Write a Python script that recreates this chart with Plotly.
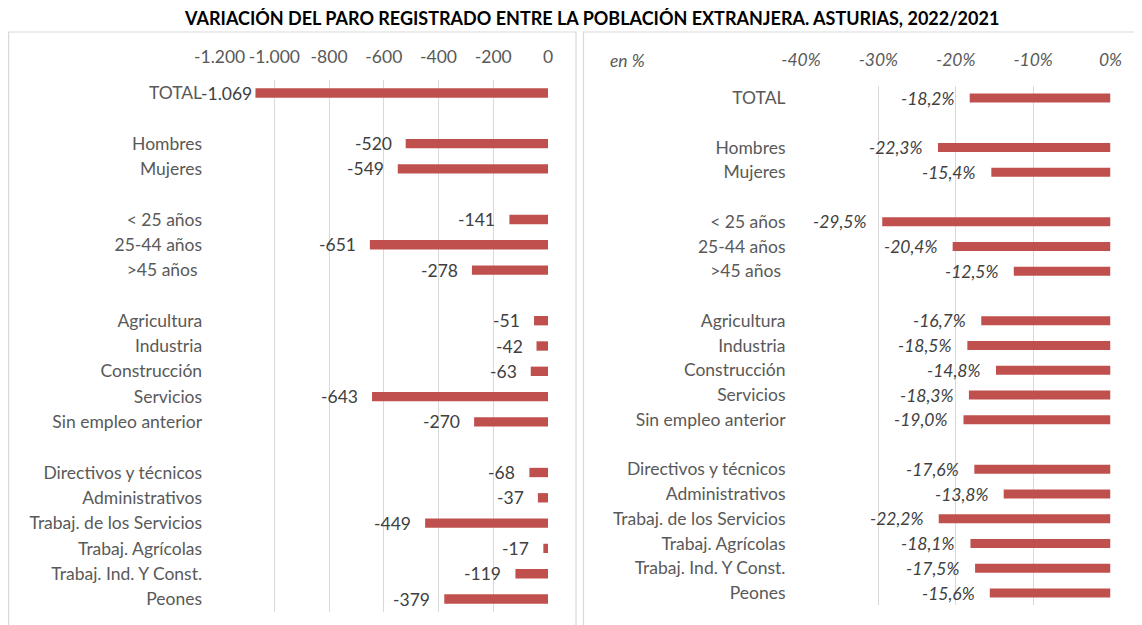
import plotly.graph_objects as go

# ---- data ----
categories = ["TOTAL",
              "Hombres", "Mujeres",
              "< 25 años", "25-44 años", ">45 años ",
              "Agricultura", "Industria", "Construcción", "Servicios", "Sin empleo anterior",
              "Directivos y técnicos", "Administrativos", "Trabaj. de los Servicios",
              "Trabaj. Agrícolas", "Trabaj. Ind. Y Const.", "Peones"]
group_sizes = [1, 2, 3, 5, 6]
abs_change = [-1069, -520, -549, -141, -651, -278, -51, -42, -63, -643, -270,
              -68, -37, -449, -17, -119, -379]
pct_change = [-18.2, -22.3, -15.4, -29.5, -20.4, -12.5, -16.7, -18.5, -14.8, -18.3, -19.0,
              -17.6, -13.8, -22.2, -18.1, -17.5, -15.6]
abs_ticks = [-1200, -1000, -800, -600, -400, -200, 0]
abs_ticklabels = ["-1.200", "-1.000", "-800", "-600", "-400", "-200", "0"]
pct_ticks = [-40, -30, -20, -10, 0]
pct_ticklabels = ["-40%", "-30%", "-20%", "-10%", "0%"]
title = "VARIACIÓN DEL PARO REGISTRADO ENTRE LA POBLACIÓN EXTRANJERA. ASTURIAS, 2022/2021"

# row positions with one blank row between groups
rows = []
r = 0
for g in group_sizes:
    for _ in range(g):
        rows.append(r)
        r += 1
    r += 1
last_row = rows[-1]

# page has an 8px body margin; figure sized to fit the window
OFF = 8
W, H = 1142 - OFF, 625 - OFF
RED = "#C0504D"
GRID = "#D9D9D9"
TXT = "#595959"
LBL = "#404040"
FONT = "Lato"
FS = 17.5

def fmt_abs(v):
    s = f"{abs(v):,}".replace(",", ".")
    return ("-" if v < 0 else "") + s

def fmt_pct(v):
    return f"{v:.1f}".replace(".", ",") + "%"

def px_x(p):
    return (p - OFF) / W

def px_y(p):
    return 1 - (p - OFF) / H

fig = go.Figure()
fig.add_trace(go.Bar(y=rows, x=abs_change, orientation="h", width=0.37,
                     marker=dict(color=RED, line=dict(width=0)),
                     xaxis="x", yaxis="y", showlegend=False, hoverinfo="x+text",
                     hovertext=categories))
fig.add_trace(go.Bar(y=rows, x=pct_change, orientation="h", width=0.37,
                     marker=dict(color=RED, line=dict(width=0)),
                     xaxis="x2", yaxis="y2", showlegend=False, hoverinfo="x+text",
                     hovertext=categories))

annotations = []
for i, (rw, v) in enumerate(zip(rows, abs_change)):
    shift = -12
    if v < -1000:
        shift = -1
    annotations.append(dict(x=v, y=rw, xref="x", yref="y", text=fmt_abs(v),
                            showarrow=False, xanchor="right", yanchor="middle",
                            xshift=shift, font=dict(family=FONT, size=FS, color=LBL)))
for rw, v in zip(rows, pct_change):
    annotations.append(dict(x=v, y=rw, xref="x2", yref="y2", text=fmt_pct(v),
                            showarrow=False, xanchor="right", yanchor="middle",
                            xshift=-13, font=dict(family=FONT, size=FS, color=LBL,
                                                  style="italic")))

annotations.append(dict(x=px_x(591), y=px_y(18), xref="paper", yref="paper",
                        text="<b>" + title + "</b>", showarrow=False,
                        xanchor="center", yanchor="middle",
                        font=dict(family=FONT, size=18, color="#000000")))
annotations.append(dict(x=px_x(608), y=px_y(61), xref="paper", yref="paper",
                        text="en %", showarrow=False, xanchor="left", yanchor="middle",
                        font=dict(family=FONT, size=FS, color=TXT, style="italic")))

shapes = [
    dict(type="rect", xref="paper", yref="paper", x0=px_x(8.6), x1=px_x(576),
         y0=-0.05, y1=px_y(32), line=dict(color=GRID, width=1.2), layer="below"),
    dict(type="rect", xref="paper", yref="paper", x0=px_x(583.5), x1=1.05,
         y0=-0.05, y1=px_y(32), line=dict(color=GRID, width=1.2), layer="below"),
]

# axis geometry (pixels in the reference)
l_x0, l_x1 = 219.6, 548.0
l_top, l_pitch = 93, 25.3
r_x0, r_x1 = 801.0, 1110.5
r_top, r_pitch = 98, 24.75

common_x = dict(showgrid=True, gridcolor=GRID, gridwidth=1.2, zeroline=False,
                side="top", ticks="outside", tickcolor="rgba(0,0,0,0)",
                showline=False, fixedrange=True, automargin=False)
common_y = dict(showgrid=False, zeroline=False, showline=False, autorange=False,
                range=[last_row + 0.5, -0.5], tickmode="array", tickvals=rows,
                ticktext=categories, ticks="outside", tickcolor="rgba(0,0,0,0)",
                tickfont=dict(family=FONT, size=FS, color=TXT), fixedrange=True,
                automargin=False)

fig.update_layout(
    template="none",
    width=W, height=H,
    margin=dict(l=0, r=0, t=0, b=0, pad=0, autoexpand=False),
    paper_bgcolor="white", plot_bgcolor="rgba(0,0,0,0)",
    barmode="overlay",
    xaxis=dict(domain=[px_x(l_x0), px_x(l_x1)], range=[-1200, 0], tickmode="array",
               tickvals=abs_ticks, ticktext=abs_ticklabels, anchor="y", ticklen=9,
               tickfont=dict(family=FONT, size=FS, color=TXT), **common_x),
    yaxis=dict(domain=[px_y(l_top + last_row * l_pitch + l_pitch / 2),
                       px_y(l_top - l_pitch / 2)], anchor="x", ticklen=13, **common_y),
    xaxis2=dict(domain=[px_x(r_x0), px_x(r_x1)], range=[-40, 0], tickmode="array",
                tickvals=pct_ticks, ticktext=pct_ticklabels, anchor="y2", ticklen=12,
                tickfont=dict(family=FONT, size=FS, color=TXT, style="italic"),
                **common_x),
    yaxis2=dict(domain=[px_y(r_top + last_row * r_pitch + r_pitch / 2),
                        px_y(r_top - r_pitch / 2)], anchor="x2", ticklen=11, **common_y),
    annotations=annotations,
    shapes=shapes,
)

fig.write_html("out.html")
